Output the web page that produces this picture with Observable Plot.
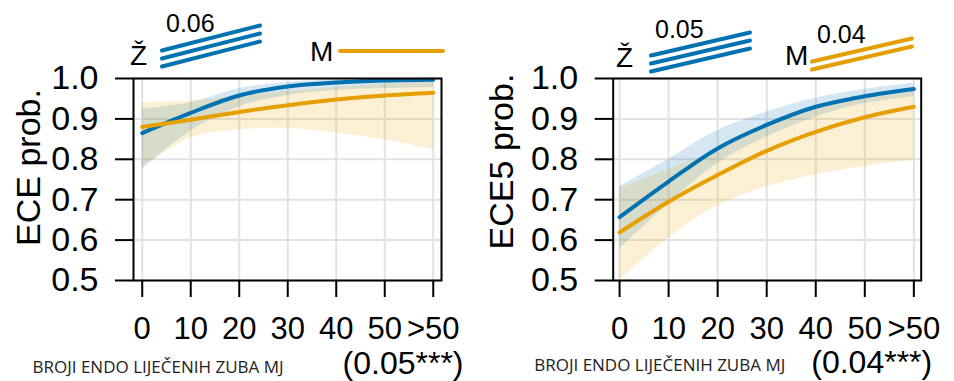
<!DOCTYPE html>
<html>
<head>
<meta charset="utf-8">
<script src="https://cdn.jsdelivr.net/npm/d3@7"></script>
<script src="https://cdn.jsdelivr.net/npm/@observablehq/plot@0.6"></script>
<style>
  html, body { margin: 0; padding: 0; background: #fff; }
  #chart { position: relative; width: 954px; height: 381px; overflow: hidden; }
  .panel { position: absolute; top: 0; }
  #legend { position: absolute; left: 0; top: 0; pointer-events: none; }
</style>
</head>
<body>
<div id="chart"></div>
<script>
// Groups and x categories (number of endodontically treated teeth per month)
const groups = ["Ž", "M"];
const groupColors = ["#0072B2", "#E69F00"];
const doses = [0, 10, 20, 30, 40, 50, 60];
const xTickLabels = ["0", "10", "20", "30", "40", "50", ">50"];
const yTicks = [0.5, 0.6, 0.7, 0.8, 0.9, 1.0];
const xTitle = "BROJI ENDO LIJEČENIH ZUBA MJ";

// ECE: predicted probability with 95% band
const eceZ     = [0.865, 0.915, 0.958, 0.980, 0.990, 0.995, 0.997];
const eceZLow  = [0.775, 0.870, 0.930, 0.958, 0.970, 0.975, 0.978];
const eceZHigh = [0.924, 0.940, 0.975, 0.990, 0.996, 0.999, 1.000];
const eceM     = [0.880, 0.898, 0.917, 0.934, 0.948, 0.958, 0.965];
const eceMLow  = [0.780, 0.853, 0.873, 0.877, 0.865, 0.848, 0.825];
const eceMHigh = [0.940, 0.944, 0.956, 0.968, 0.978, 0.986, 0.992];

// ECE5: predicted probability with 95% band
const ece5Z     = [0.657, 0.745, 0.827, 0.885, 0.930, 0.956, 0.974];
const ece5ZLow  = [0.578, 0.690, 0.790, 0.855, 0.905, 0.938, 0.955];
const ece5ZHigh = [0.732, 0.800, 0.872, 0.917, 0.952, 0.973, 0.988];
const ece5M     = [0.619, 0.695, 0.761, 0.821, 0.868, 0.904, 0.930];
const ece5MLow  = [0.500, 0.605, 0.685, 0.732, 0.762, 0.782, 0.798];
const ece5MHigh = [0.728, 0.775, 0.822, 0.880, 0.925, 0.952, 0.968];

// Slope annotations per group: label, number of stacked strokes, rising or flat
const eceSlopeLabels = ["0.06", ""];
const eceSlopeStrokes = [3, 1];
const eceSlopeRising = [true, false];
const ece5SlopeLabels = ["0.05", "0.04"];
const ece5SlopeStrokes = [3, 2];
const ece5SlopeRising = [true, true];

const yTitles = ["ECE prob.", "ECE5 prob."];
const coefLabels = ["(0.05***)", "(0.04***)"];

function rowsFor(series) {
  // series: [[fit, lo, hi] for Ž, [fit, lo, hi] for M]
  const rows = [];
  series.forEach(([fit, lo, hi], g) => {
    doses.forEach((x, i) => rows.push({group: groups[g], x, fit: fit[i], lo: lo[i], hi: hi[i]}));
  });
  return rows;
}

const eceRows = rowsFor([[eceZ, eceZLow, eceZHigh], [eceM, eceMLow, eceMHigh]]);
const ece5Rows = rowsFor([[ece5Z, ece5ZLow, ece5ZHigh], [ece5M, ece5MLow, ece5MHigh]]);

const sans = "'Liberation Sans', Arial, Helvetica, sans-serif";

function panel(o) {
  return Plot.plot({
    width: 477,
    height: 381,
    marginTop: 78,
    marginBottom: 101,
    marginLeft: o.marginLeft,
    marginRight: o.marginRight,
    style: {fontFamily: sans, background: "transparent", overflow: "visible", color: "#000"},
    x: {domain: o.xDomain},
    y: {domain: [0.5, 1]},
    color: {domain: groups, range: groupColors},
    marks: [
      Plot.gridX(doses, {stroke: "#e2e2e2", strokeOpacity: 1, strokeWidth: 2}),
      Plot.gridY(yTicks, {stroke: "#e2e2e2", strokeOpacity: 1, strokeWidth: 2}),
      Plot.areaY(o.rows, {x: "x", y1: "lo", y2: "hi", fill: "group", fillOpacity: 0.17, curve: "catmull-rom"}),
      Plot.line(o.rows, {x: "x", y: "fit", stroke: "group", strokeWidth: 4, curve: "catmull-rom"}),
      Plot.frame({stroke: "#000", strokeWidth: 2}),
      Plot.axisX(doses, {
        tickSize: 17, tickPadding: 19, strokeWidth: 2, fontSize: 31, label: null,
        tickFormat: (d) => xTickLabels[doses.indexOf(d)]
      }),
      Plot.axisY(yTicks, {
        tickSize: 18, tickPadding: 17, strokeWidth: 2, fontSize: 34, label: null,
        tickFormat: d3.format(".1f")
      }),
      Plot.text([o.yTitle], {
        frameAnchor: "left", textAnchor: "middle", lineAnchor: "middle", rotate: -90,
        dx: o.yTitleDx, dy: o.yTitleDy, fontSize: 34
      }),
      Plot.text([xTitle], {
        frameAnchor: "bottom-left", textAnchor: "start", lineAnchor: "bottom",
        dx: o.xTitleDx, dy: o.xTitleDy, fontSize: 17, fontFamily: "'Open Sans', sans-serif", fill: "#222"
      }),
      Plot.text([o.coef], {
        frameAnchor: "bottom-right", textAnchor: "end", lineAnchor: "bottom",
        dx: o.coefDx, dy: o.coefDy, fontSize: 32
      })
    ]
  });
}

const chart = document.getElementById("chart");

const left = panel({
  rows: eceRows, yTitle: yTitles[0], coef: coefLabels[0],
  marginLeft: 133, marginRight: 36, xDomain: [-1.8, 61.7],
  yTitleDx: -104, yTitleDy: -12,
  xTitleDx: -101, xTitleDy: 92,
  coefDx: 22, coefDy: 93
});
left.classList.add("panel");
left.style.left = "0px";
chart.appendChild(left);

const right = panel({
  rows: ece5Rows, yTitle: yTitles[1], coef: coefLabels[1],
  marginLeft: 135.7, marginRight: 33.3, xDomain: [-1.3, 61.5],
  yTitleDx: -111, yTitleDy: -18,
  xTitleDx: -79, xTitleDy: 90,
  coefDx: 11, coefDy: 92
});
right.classList.add("panel");
right.style.left = "477px";
chart.appendChild(right);

// Slope key above each panel: group letter, stacked strokes, coefficient text
const legend = d3.select(chart).append("svg")
  .attr("id", "legend")
  .attr("width", 954).attr("height", 381)
  .style("font-family", sans);

function slopeKey(item) {
  const g = legend.append("g");
  const color = groupColors[item.group];
  g.append("text")
    .attr("x", item.letterX).attr("y", item.letterY)
    .attr("font-size", 28).attr("fill", "#000")
    .text(groups[item.group]);
  const rise = item.rising ? item.rise : 0;
  for (let k = 0; k < item.strokes; k++) {
    const off = k * 8;
    g.append("line")
      .attr("x1", item.x0).attr("y1", item.y0 - off)
      .attr("x2", item.x1).attr("y2", item.y0 - rise - off)
      .attr("stroke", color).attr("stroke-width", 4).attr("stroke-linecap", "round");
  }
  if (item.label) {
    g.append("text")
      .attr("x", item.labelX).attr("y", item.labelY)
      .attr("font-size", 25).attr("fill", "#000")
      .text(item.label);
  }
}

slopeKey({group: 0, letterX: 130, letterY: 65, x0: 162, x1: 260, y0: 66.5, rise: 25,
  strokes: eceSlopeStrokes[0], rising: eceSlopeRising[0], label: eceSlopeLabels[0], labelX: 166, labelY: 32});
slopeKey({group: 1, letterX: 310, letterY: 61, x0: 340, x1: 443, y0: 51, rise: 25,
  strokes: eceSlopeStrokes[1], rising: eceSlopeRising[1], label: eceSlopeLabels[1], labelX: 0, labelY: 0});
slopeKey({group: 0, letterX: 616, letterY: 67, x0: 651, x1: 750, y0: 71.5, rise: 23,
  strokes: ece5SlopeStrokes[0], rising: ece5SlopeRising[0], label: ece5SlopeLabels[0], labelX: 655, labelY: 38});
slopeKey({group: 1, letterX: 785, letterY: 65, x0: 812, x1: 912, y0: 69.5, rise: 23,
  strokes: ece5SlopeStrokes[1], rising: ece5SlopeRising[1], label: ece5SlopeLabels[1], labelX: 817, labelY: 43});
</script>
</body>
</html>
